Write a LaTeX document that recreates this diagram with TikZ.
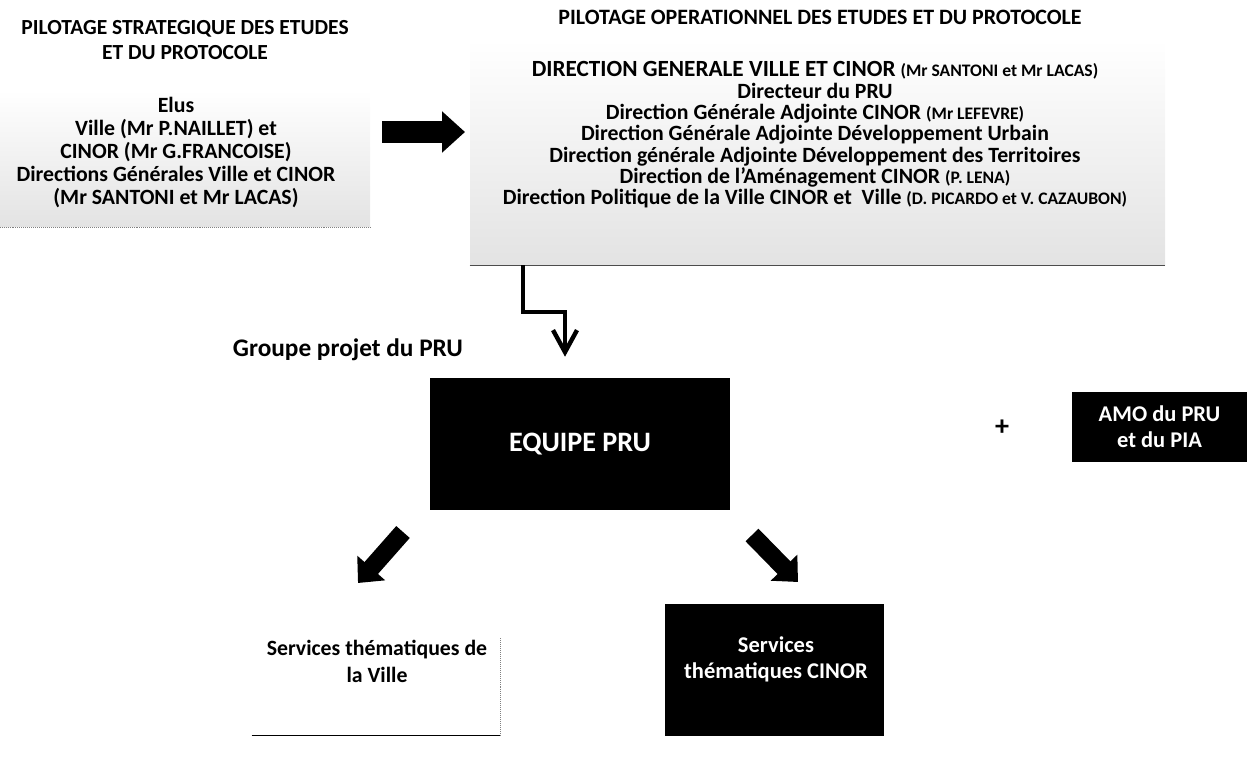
\documentclass[tikz,border=0pt]{standalone}
\usepackage{fontspec}
\setmainfont{Carlito}
\usetikzlibrary{arrows.meta}

\newcommand{\smallpart}[1]{{\fontsize{12.5}{13}\selectfont #1}}

\begin{document}
\begin{tikzpicture}[
  every node/.style={font=\bfseries},
  titre/.style={align=center, font=\fontsize{15.3}{17.8}\selectfont\bfseries},
  bloc/.style={align=center, font=\fontsize{15.5}{16.5}\selectfont\bfseries},
  fond/.style={inner sep=0pt, top color=white, bottom color=black!11},
  noir/.style={fill=black, text=white, inner sep=0pt},
  bigarrow/.style={line width=0.55cm, -{Triangle[length=0.575cm,width=1cm]}},
  diagarrow/.style={line width=0.45cm, -{Triangle[length=0.5cm,width=0.9cm]}},
  elbow/.style={line width=0.11cm, -{Straight Barb[length=0.55cm,width=0.6cm]}}
]
\useasboundingbox (0,0) rectangle (31.175,18.95) ;

% fonds gris
\draw (4.625,14.99) node[fond, minimum width=9.25cm, minimum height=3.425cm] (stratbg) {} ;
\draw[gray, densely dotted] (stratbg.south west) -- (stratbg.south east) ;
\draw (20.4375,15.1375) node[fond, minimum width=17.375cm, minimum height=5.625cm] (operbg) {} ;
\draw[black!70] (operbg.south west) -- (operbg.south east) ;

% pilotage strategique
\draw (4.625,17.9375) node[titre] (strat) {PILOTAGE STRATEGIQUE DES ETUDES\\ET DU PROTOCOLE} ;
\draw (4.4,15.1375) node[bloc] (elus) {Elus\\Ville (Mr P.NAILLET) et\\CINOR (Mr G.FRANCOISE)\\Directions Générales Ville et CINOR\\(Mr SANTONI et Mr LACAS)} ;

% pilotage operationnel
\draw (20.5,18.525) node[titre, font=\fontsize{15.6}{17}\selectfont\bfseries] (oper) {PILOTAGE OPERATIONNEL DES ETUDES ET DU PROTOCOLE} ;
\draw (20.375,15.5775) node[bloc, font=\fontsize{15.5}{15.2}\selectfont\bfseries] (dir) {{\fontsize{16.5}{15.2}\selectfont DIRECTION GENERALE VILLE ET CINOR} \smallpart{(Mr SANTONI et Mr LACAS)}\\
Directeur du PRU\\
Direction Générale Adjointe CINOR \smallpart{(Mr LEFEVRE)}\\
Direction Générale Adjointe Développement Urbain\\
Direction générale Adjointe Développement des Territoires\\
Direction de l’Aménagement CINOR \smallpart{(P. LENA)}\\
Direction Politique de la Ville CINOR et~ Ville \smallpart{(D. PICARDO et V. CAZAUBON)}} ;

\coordinate (a1) at (9.55,15.65) ;
\coordinate (a2) at (11.625,15.65) ;
\draw[bigarrow] (a1) to (a2) ;

% groupe projet
\draw (5.7,10.2) node[anchor=west, font=\fontsize{18}{20}\selectfont\bfseries] (grp) {Groupe projet du PRU} ;
\draw (14.5,7.85) node[noir, minimum width=7.5cm, minimum height=3.3cm, font=\fontsize{20}{22}\selectfont\bfseries] (equipe) {EQUIPE PRU} ;

\coordinate (e1) at (13.075,12.325) ;
\coordinate (e2) at (14.125,11.15) ;
\draw[elbow, shorten >=0.525cm] (e1) |- (e2) -- (e2 |- equipe.north) ;

\draw (25.05,8.25) node[font=\fontsize{20}{20}\selectfont\bfseries] (plus) {+} ;
\draw (28.9875,8.275) node[noir, minimum width=4.375cm, minimum height=1.75cm, align=center, font=\fontsize{16}{18.5}\selectfont\bfseries] (amo) {AMO du PRU\\et du PIA} ;

% services
\coordinate (g1) at (10.075,5.65) ;
\coordinate (g2) at (8.95,4.375) ;
\coordinate (d1) at (18.8,5.575) ;
\coordinate (d2) at (19.95,4.4) ;
\draw[diagarrow] (g1) to (g2) ;
\draw[diagarrow] (d1) to (d2) ;

\draw (9.4,2.2125) node[inner sep=0pt, minimum width=6.2cm, minimum height=3.275cm] (villebox) {} ;
\draw[line width=1pt] (villebox.south west) -- (villebox.south east) ;
\draw[gray, densely dotted] (villebox.south east) -- ([yshift=2.45cm]villebox.south east) ;
\draw (9.425,2.4125) node[align=center, font=\fontsize{15.5}{19.2}\selectfont\bfseries] (ville) {Services thématiques de\\la Ville} ;

\draw (19.3625,2.2) node[noir, minimum width=5.475cm, minimum height=3.3cm] (cinorbox) {} ;
\draw (19.4,2.475) node[align=center, text=white, font=\fontsize{16}{18.5}\selectfont\bfseries] (cinor) {Services\\thématiques CINOR} ;

\end{tikzpicture}
\end{document}
